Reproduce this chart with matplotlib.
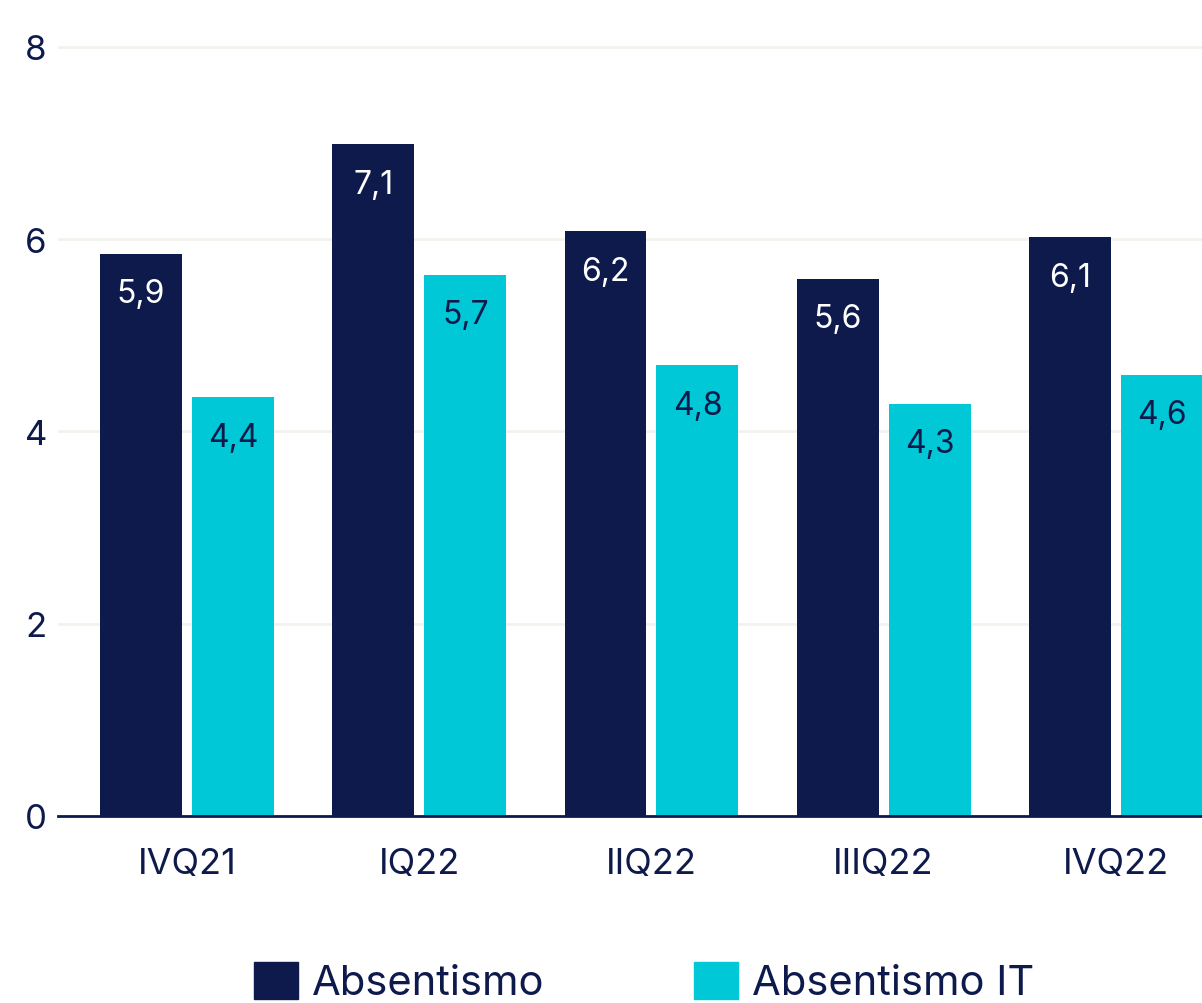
import matplotlib.pyplot as plt
from matplotlib.patches import Patch
import numpy as np

plt.rcParams['font.family'] = ['Inter', 'DejaVu Sans']

# data
quarters = ['IVQ21', 'IQ22', 'IIQ22', 'IIIQ22', 'IVQ22']
absentismo = [5.85, 6.99, 6.08, 5.59, 6.02]
absentismo_it = [4.36, 5.63, 4.69, 4.29, 4.59]
labels_abs = ['5,9', '7,1', '6,2', '5,6', '6,1']
labels_it = ['4,4', '5,7', '4,8', '4,3', '4,6']

navy = '#0D1A4B'
cyan = '#00C8D7'

fig = plt.figure(figsize=(12.02, 10.04), dpi=100)
ax = fig.add_axes([58 / 1202, 187 / 1004, (1202 - 58) / 1202, 798 / 1004])

x = np.arange(len(quarters))
w = 0.353
off = 0.198
b1 = ax.bar(x - off, absentismo, w, color=navy, zorder=3)
b2 = ax.bar(x + off, absentismo_it, w, color=cyan, zorder=3)

for rect, lab in zip(b1, labels_abs):
    ax.annotate(lab, (rect.get_x() + rect.get_width() / 2, rect.get_height()),
                xytext=(0, -29), textcoords='offset points',
                ha='center', va='center', color='white', fontsize=23)
for rect, lab in zip(b2, labels_it):
    ax.annotate(lab, (rect.get_x() + rect.get_width() / 2, rect.get_height()),
                xytext=(0, -29), textcoords='offset points',
                ha='center', va='center', color=navy, fontsize=23)

ax.set_xlim(-0.556, 4.371)
ax.set_ylim(0, 8.3)
ax.set_yticks([0, 2, 4, 6, 8])
ax.set_xticks(x)
ax.set_xticklabels(quarters)
ax.tick_params(axis='y', length=0, pad=8, labelsize=25, labelcolor=navy)
ax.tick_params(axis='x', length=0, pad=22, labelsize=26, labelcolor=navy)
ax.grid(axis='y', color='#F3F3EE', linewidth=2, zorder=0)
for s in ['top', 'right', 'left']:
    ax.spines[s].set_visible(False)
ax.spines['bottom'].set_color(navy)
ax.spines['bottom'].set_linewidth(2)
ax.spines['bottom'].set_zorder(4)

handles = [Patch(color=navy), Patch(color=cyan)]
fig.legend(handles, ['Absentismo', 'Absentismo IT'], loc='center',
           bbox_to_anchor=(644 / 1202, 1 - 983 / 1004), ncol=2, frameon=False,
           fontsize=30, labelcolor=navy, handlelength=1.05, handleheight=1.0,
           handletextpad=0.33, columnspacing=3.6, borderpad=0, borderaxespad=0)

fig.savefig('out.png', dpi=100)
